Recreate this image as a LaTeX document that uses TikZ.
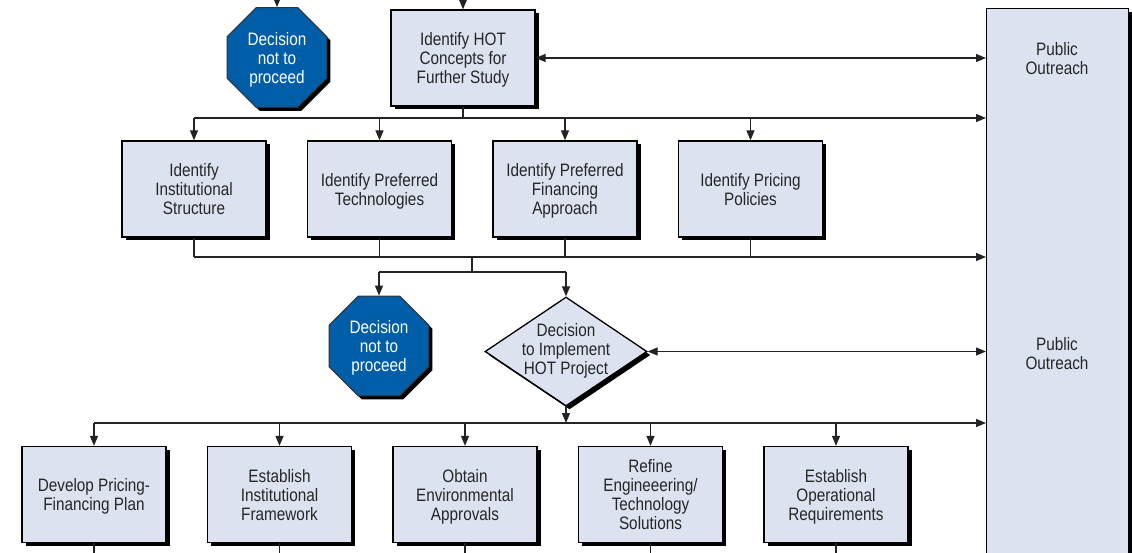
\documentclass[tikz,border=0pt]{standalone}
\usepackage{fontspec}
\setmainfont{Liberation Sans}[FakeStretch=0.85]
\usepackage{tikz}
\usetikzlibrary{positioning,shapes.geometric,shadows,arrows.meta}

\definecolor{boxfill}{RGB}{221,226,240}
\definecolor{stopblue}{RGB}{0,94,168}
\definecolor{linegray}{RGB}{35,35,35}

\tikzset{
  shadowed/.style={drop shadow={shadow xshift=3.5pt, shadow yshift=-3.5pt, fill=black, opacity=1}},
  stepbox/.style={draw, line width=1.3pt, fill=boxfill, shadowed,
    minimum width=144pt, minimum height=96pt, inner sep=1pt},
  stopsign/.style={regular polygon, regular polygon sides=8, minimum size=108pt,
    inner sep=0pt, draw=black!80, line width=1pt, fill=stopblue, text=white, shadowed},
  decision/.style={diamond, draw, line width=1.3pt, fill=boxfill, shadowed,
    minimum width=162pt, minimum height=109pt, inner sep=0pt},
  outreachbox/.style={draw, line width=1.3pt, fill=boxfill, shadowed,
    minimum width=142pt, minimum height=570pt, anchor=north west},
  link/.style={draw=linegray, line width=1.3pt}
}

\begin{document}
\begin{tikzpicture}[x=1pt, y=-1pt, node distance=185.5pt,
    every node/.style={align=center, text=black!85, text depth=0pt},
    font=\fontsize{18pt}{19pt}\selectfont,
    >={Triangle[length=10pt,width=8pt]}]
  \path[use as bounding box, clip] (0,0) rectangle (1132,553);

  % public outreach column
  \node (outreach) [outreachbox] at (986,8) {};
  \node (outreachA) at (1057,58) {Public\\Outreach};
  \node (outreachB) at (1057,353) {Public\\Outreach};

  % concept stage
  \node (stopA) [stopsign] at (277,57.5) {Decision\\not to\\proceed};
  \node (hot) [stepbox] at (463,58) {Identify HOT\\Concepts for\\Further Study};

  \node (inst) [stepbox] at (194,189) {Identify\\Institutional\\Structure};
  \node (tech) [stepbox, right of=inst] {Identify Preferred\\Technologies};
  \node (fin) [stepbox, right of=tech] {Identify Preferred\\Financing\\Approach};
  \node (price) [stepbox, right of=fin] {Identify Pricing\\Policies};

  % decision stage
  \node (stopB) [stopsign] at (379,346) {Decision\\not to\\proceed};
  \node (impl) [decision] at (566,351.5) {};
  \node (impltext) at ([yshift=3pt]impl.center) {Decision\\to Implement\\HOT Project};

  % implementation stage
  \node (plan) [stepbox] at (94,494.5) {Develop Pricing-\\Financing Plan};
  \node (frame) [stepbox, right of=plan] {Establish\\Institutional\\Framework};
  \node (env) [stepbox, right of=frame] {Obtain\\Environmental\\Approvals};
  \node (eng) [stepbox, right of=env] {Refine\\Engineeering/\\Technology\\Solutions};
  \node (ops) [stepbox, right of=eng] {Establish\\Operational\\Requirements};

  \coordinate (inA) at (277,-2);
  \coordinate (inB) at (463,-2);
  \coordinate (busA) at (0,118);
  \coordinate (busB) at (0,257);
  \coordinate (split) at (472,257);
  \coordinate (busC) at (0,272);
  \coordinate (busD) at (0,423);
  \coordinate (exit) at (0,560);

  \draw[link, ->] (inA) -- (stopA);
  \draw[link, ->] (inB) -- (hot);
  \draw[link, <->] (hot.east) -- (outreach.west |- hot.east);

  \draw[link] (hot.south) -- (hot.south |- busA);
  \draw[link, ->] (inst.north |- busA) -- (outreach.west |- busA);
  \foreach \n in {inst,tech,fin,price}
    \draw[link, ->] (\n.north |- busA) -- (\n.north);

  \foreach \n in {inst,tech,fin,price}
    \draw[link] (\n.south) -- (\n.south |- busB);
  \draw[link, ->] (inst.south |- busB) -- (outreach.west |- busB);
  \draw[link] (split) -- (split |- busC);
  \draw[link] (stopB.north |- busC) -- (impl.north |- busC);
  \draw[link, ->] (stopB.north |- busC) -- (stopB.north);
  \draw[link, ->] (impl.north |- busC) -- (impl.north);
  \draw[link, <->] (impl.east) -- (outreach.west |- impl.east);

  \draw[link, ->] (impl.south) -- (impl.south |- busD);
  \draw[link, ->] (plan.north |- busD) -- (outreach.west |- busD);
  \foreach \n in {plan,frame,env,eng,ops} {
    \draw[link, ->] (\n.north |- busD) -- (\n.north);
    \draw[link] (\n.south) -- (\n.south |- exit);
  }
\end{tikzpicture}
\end{document}
